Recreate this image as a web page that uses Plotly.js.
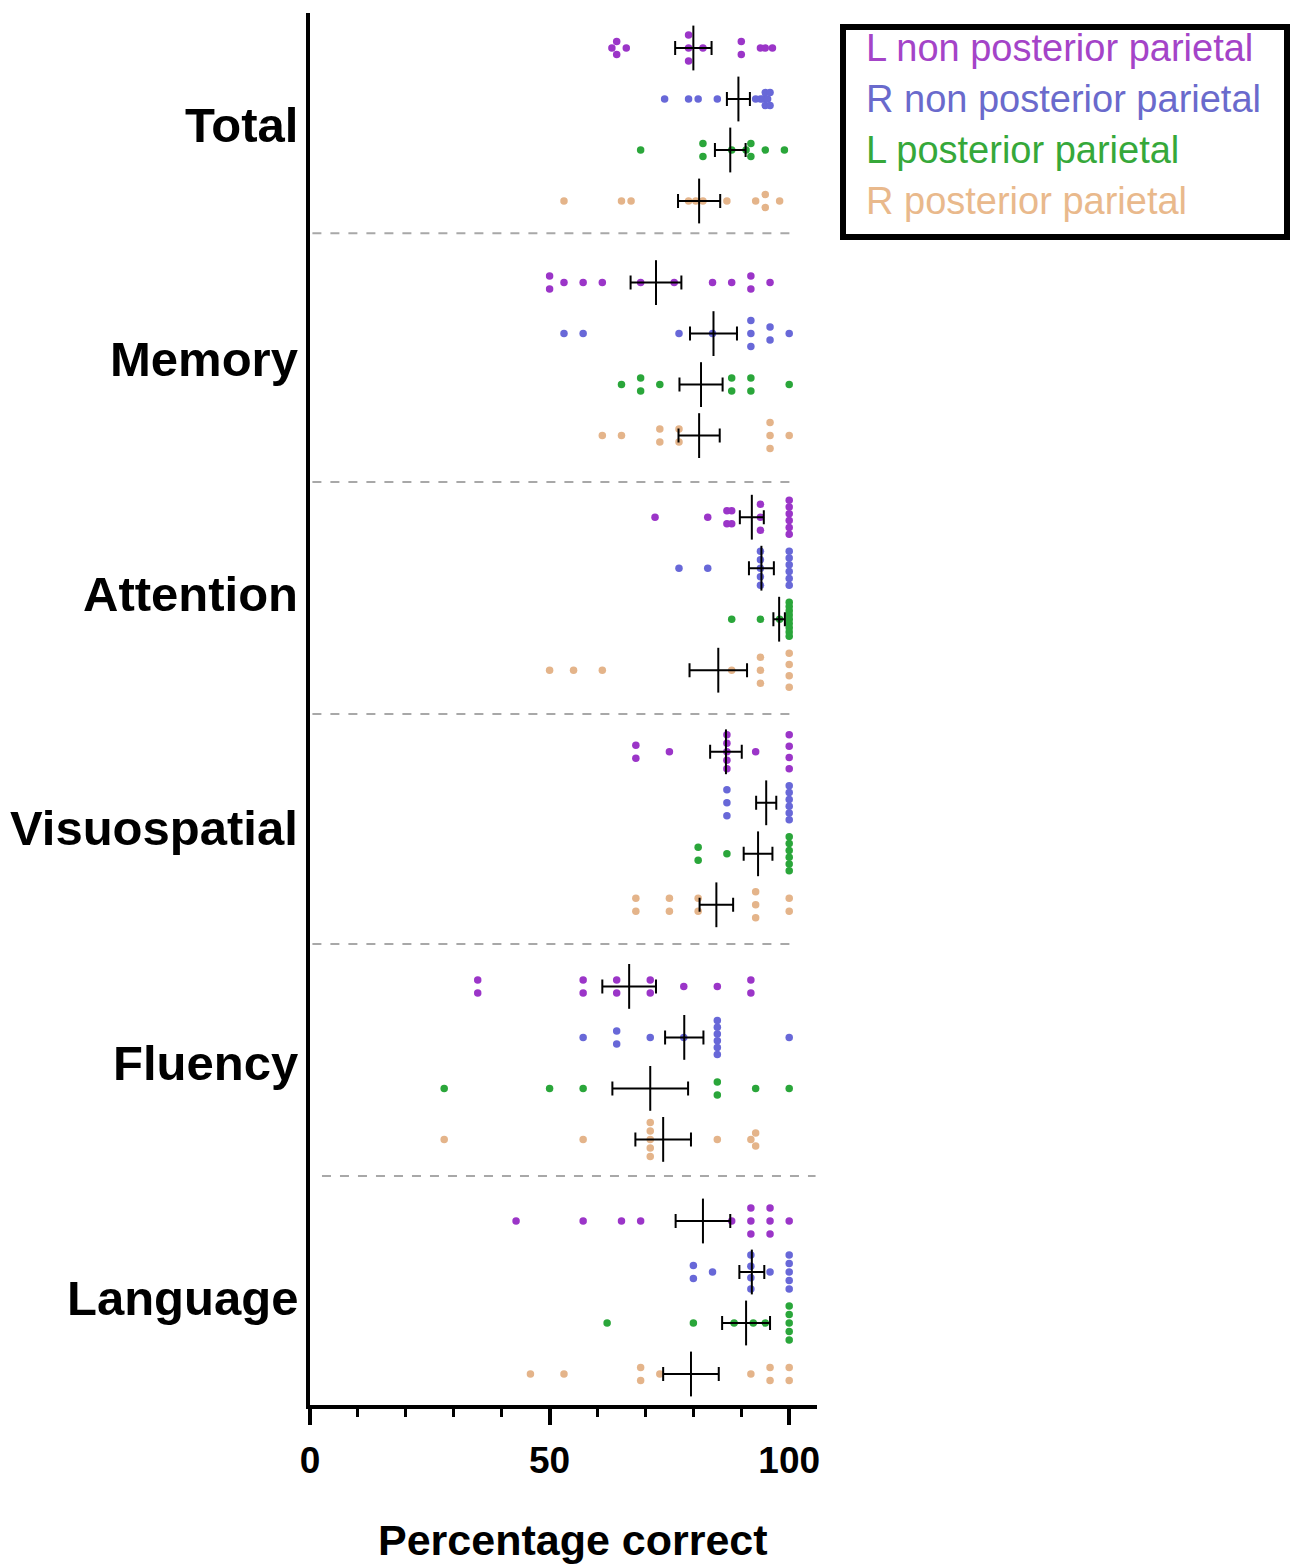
<!DOCTYPE html>
<html>
<head>
<meta charset="utf-8">
<script src="https://cdn.plot.ly/plotly-3.0.1.min.js"></script>
<style>html,body{margin:0;padding:0;background:#fff;}#chart{width:1292px;height:1564px;}</style>
</head>
<body>
<div id="chart"></div>
<script>
// ---- data ----
const categories = ['Total','Memory','Attention','Visuospatial','Fluency','Language'];
const groups = ['L non posterior parietal','R non posterior parietal','L posterior parietal','R posterior parietal'];
const xTickVals = [0, 50, 100];
const xTickText = ['0', '50', '100'];
const xTitle = 'Percentage correct';

// individual scores per category, one list per group (L non PP, R non PP, L PP, R PP)
const totalPoints = [
  [63, 64, 64, 66, 79, 79, 79, 82, 90, 90, 94, 95, 96.5],
  [74, 79, 81, 85, 93, 94, 94.5, 95, 95, 95.5, 96, 96],
  [69, 82, 82, 88, 91, 92, 92, 95, 99],
  [53, 65, 67, 79, 80.5, 82, 87, 93, 95, 95, 98]
];
const memoryPoints = [
  [50, 50, 53, 57, 61, 69, 76, 84, 88, 92, 92, 96],
  [53, 57, 77, 84, 92, 92, 92, 96, 96, 100],
  [65, 69, 69, 73, 88, 88, 92, 92, 100],
  [61, 65, 73, 73, 77, 77, 96, 96, 96, 100]
];
const attentionPoints = [
  [72, 83, 87, 87, 88, 88, 94, 94, 94, 100, 100, 100, 100, 100, 100],
  [77, 83, 94, 94, 94, 94, 94, 100, 100, 100, 100, 100, 100],
  [88, 94, 98, 100, 100, 100, 100, 100, 100, 100, 100, 100],
  [50, 55, 61, 88, 94, 94, 94, 100, 100, 100, 100]
];
const visuospatialPoints = [
  [68, 68, 75, 87, 87, 87, 87, 87, 93, 100, 100, 100, 100],
  [87, 87, 87, 100, 100, 100, 100, 100, 100],
  [81, 81, 87, 100, 100, 100, 100, 100, 100],
  [68, 68, 75, 75, 81, 81, 93, 93, 93, 100, 100]
];
const fluencyPoints = [
  [35, 35, 57, 57, 64, 64, 71, 71, 78, 85, 92, 92],
  [57, 64, 64, 71, 78, 85, 85, 85, 85, 85, 85, 100],
  [28, 50, 57, 85, 85, 93, 100],
  [28, 57, 71, 71, 71, 71, 71, 85, 92, 93, 93]
];
const languagePoints = [
  [43, 57, 65, 69, 88, 92, 92, 92, 96, 96, 96, 100],
  [80, 80, 84, 92, 92, 92, 92, 96, 100, 100, 100, 100, 100],
  [62, 80, 88.5, 92.5, 95, 100, 100, 100, 100, 100],
  [46, 53, 69, 69, 73, 92, 96, 96, 100, 100]
];

// mean and SEM per category, order of groups as above
const meanTotal = [80.0, 89.4, 87.7, 81.2];
const semTotal = [3.8, 2.4, 3.2, 4.4];
const meanMemory = [72.2, 84.2, 81.6, 81.2];
const semMemory = [5.3, 4.9, 4.5, 4.3];
const meanAttention = [92.2, 94.2, 97.9, 85.2];
const semAttention = [2.5, 2.6, 1.2, 6.0];
const meanVisuospatial = [86.8, 95.2, 93.5, 84.8];
const semVisuospatial = [3.3, 2.1, 3.0, 3.5];
const meanFluency = [66.6, 78.1, 71.0, 73.7];
const semFluency = [5.6, 4.0, 7.9, 5.8];
const meanLanguage = [82.0, 92.2, 91.0, 79.5];
const semLanguage = [5.7, 2.6, 5.0, 5.8];

// ---- styles / layout helpers ----
const dotColors = ['#9B35C8', '#6868D8', '#2AA63A', '#E4B48A'];
const textColors = ['#A444C8', '#6A6ACC', '#36A83A', '#E9B98C'];
const pointSets = [totalPoints, memoryPoints, attentionPoints, visuospatialPoints, fluencyPoints, languagePoints];
const meanSets = [meanTotal, meanMemory, meanAttention, meanVisuospatial, meanFluency, meanLanguage];
const semSets = [semTotal, semMemory, semAttention, semVisuospatial, semFluency, semLanguage];

const CAT_STEP = 4.6;            // rows per category block (in row units)
const ROW_PX = 51;               // px per row unit
const SEP_OFFSETS = [3.63, 3.91, 3.86, 3.77, 3.72]; // divider offsets after each block
const plot = {l: 310, r: 817, t: 13, b: 1405};
const W = 1292, H = 1564;
const px2x = px => (px - plot.l) / (plot.r - plot.l);
const px2y = py => (plot.b - py) / (plot.b - plot.t);
const rowY = (c, g) => c * CAT_STEP + g;

const traces = [];
// dots, duplicates stacked vertically
categories.forEach((cat, c) => {
  groups.forEach((grp, g) => {
    const vals = pointSets[c][g];
    const counts = {};
    vals.forEach(v => { counts[v] = (counts[v] || 0) + 1; });
    const seen = {};
    const ys = vals.map(v => {
      const n = counts[v];
      const k = seen[v] = (seen[v] || 0) + 1;
      const stepPx = n > 1 ? Math.min(13, 34 / (n - 1)) : 0;
      const off = (k - 1 - (n - 1) / 2) * stepPx / ROW_PX;
      return rowY(c, g) + off;
    });
    traces.push({
      type: 'scatter', mode: 'markers', x: vals, y: ys,
      marker: {size: 7.5, color: dotColors[g]},
      hoverinfo: 'skip', showlegend: false
    });
  });
});
// mean +/- SEM
groups.forEach((grp, g) => {
  traces.push({
    type: 'scatter', mode: 'markers',
    x: categories.map((cat, c) => meanSets[c][g]),
    y: categories.map((cat, c) => rowY(c, g)),
    marker: {symbol: 'line-ns', size: 32, color: 'black', line: {width: 2, color: 'black'}},
    error_x: {type: 'data', array: categories.map((cat, c) => semSets[c][g]), visible: true,
              thickness: 2, width: 7, color: 'black'},
    hoverinfo: 'skip', showlegend: false
  });
});

const shapes = [];
for (let c = 0; c < categories.length - 1; c++) {
  const ySep = c * CAT_STEP + SEP_OFFSETS[c];
  const last = c === categories.length - 2;
  shapes.push({type: 'line', xref: 'x', yref: 'y', x0: last ? 2.5 : 0.5, x1: last ? 105.5 : 101.8, y0: ySep, y1: ySep,
               line: {color: '#A8A8A8', width: 2, dash: 'dash'}});
}
// legend box
shapes.push({type: 'rect', xref: 'paper', yref: 'paper',
             x0: px2x(843), x1: px2x(1287), y0: px2y(27), y1: px2y(237),
             line: {color: 'black', width: 6}, fillcolor: 'rgba(0,0,0,0)'});

const annotations = [];
categories.forEach((cat, c) => {
  annotations.push({text: cat, xref: 'paper', yref: 'y', x: 0, y: rowY(c, 1.5),
    xanchor: 'right', yanchor: 'middle', xshift: -10, showarrow: false,
    font: {family: 'Liberation Sans, Arial, sans-serif', size: 49, color: 'black', weight: 'bold'}});
});
groups.forEach((grp, g) => {
  annotations.push({text: grp, xref: 'paper', yref: 'y', x: px2x(864), y: rowY(0, g),
    xanchor: 'left', yanchor: 'middle', showarrow: false,
    font: {family: 'Liberation Sans, Arial, sans-serif', size: 38, color: textColors[g]}});
});
annotations.push({text: xTitle, xref: 'paper', yref: 'paper', x: px2x(573), y: px2y(1540),
  xanchor: 'center', yanchor: 'middle', showarrow: false,
  font: {family: 'Liberation Sans, Arial, sans-serif', size: 43, color: 'black', weight: 'bold'}});

const yTop = -(48 - plot.t) / ROW_PX;
const yBot = rowY(categories.length - 1, 3) + (plot.b - 1374) / ROW_PX;

const layout = {
  width: W, height: H,
  margin: {l: plot.l, r: W - plot.r, t: plot.t, b: H - plot.b, pad: 0},
  paper_bgcolor: 'white', plot_bgcolor: 'white',
  showlegend: false,
  xaxis: {
    range: [0, 105.8], tickmode: 'array', tickvals: xTickVals, ticktext: xTickText,
    ticks: 'outside', ticklen: 16, tickwidth: 4, tickcolor: 'black',
    showline: true, linewidth: 4, linecolor: 'black', showgrid: false, zeroline: false,
    ticklabelstandoff: 4,
    tickfont: {family: 'Liberation Sans, Arial, sans-serif', size: 37, color: 'black', weight: 'bold'},
    minor: {dtick: 10, tick0: 0, ticks: 'outside', ticklen: 8, tickwidth: 3, tickcolor: 'black', showgrid: false}
  },
  yaxis: {
    range: [yBot, yTop], showline: true, linewidth: 4, linecolor: 'black',
    showticklabels: false, ticks: '', showgrid: false, zeroline: false
  },
  shapes: shapes,
  annotations: annotations
};

Plotly.newPlot('chart', traces, layout, {displayModeBar: false, staticPlot: true});
</script>
</body>
</html>
